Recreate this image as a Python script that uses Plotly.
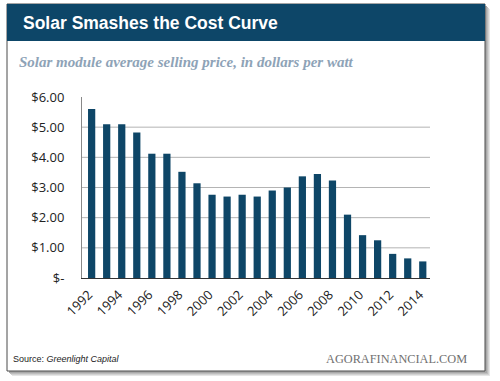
import plotly.graph_objects as go

years = [str(y) for y in range(1992, 2015)]
prices = [5.6, 5.1, 5.1, 4.82, 4.12, 4.12, 3.52, 3.14, 2.76, 2.7, 2.76, 2.7,
          2.9, 3.0, 3.37, 3.45, 3.23, 2.1, 1.42, 1.25, 0.8, 0.65, 0.55]
y_ticks = [0, 1, 2, 3, 4, 5, 6]
y_tick_labels = ["$-", "$1.00", "$2.00", "$3.00", "$4.00", "$5.00", "$6.00"]
x_tick_labels = years[::2]

W, H = 500, 381
PL, PR, PT, PB = 82, 430, 97, 278  # plot area in pixels


def px(x):
    return (x - PL) / (PR - PL)


def py(y):
    return (PB - y) / (PB - PT)


BAR = "#0e4667"

fig = go.Figure()
fig.add_trace(go.Bar(x=years, y=prices, marker=dict(color=BAR, line=dict(width=0)),
                     width=0.48))

shapes = []
# card shadow
for off, col in [(5, "#e6e6e6"), (4, "#d2d2d2"), (3, "#bdbdbd"), (2, "#a8a8a8")]:
    shapes.append(dict(type="rect", xref="paper", yref="paper", layer="below",
                       x0=px(7 + off), x1=px(485 + off), y0=py(4 + off), y1=py(371 + off),
                       fillcolor=col, line=dict(width=0)))
# card
shapes.append(dict(type="rect", xref="paper", yref="paper", layer="below",
                   x0=px(7), x1=px(485), y0=py(4), y1=py(371),
                   fillcolor="white", line=dict(color="#4a4a4a", width=1)))
# header band
shapes.append(dict(type="rect", xref="paper", yref="paper", layer="below",
                   x0=px(7), x1=px(485), y0=py(4), y1=py(41),
                   fillcolor="#0d4668", line=dict(width=0)))
# gridlines
for v in y_ticks[1:-1]:
    shapes.append(dict(type="line", xref="paper", yref="y", layer="below",
                       x0=0, x1=1, y0=v, y1=v, line=dict(color="#b4b4b4", width=1)))
fig.update_layout(shapes=shapes)

annotations = [
    dict(text="<b>Solar Smashes the Cost Curve</b>", xref="paper", yref="paper",
         x=px(21), y=py(23), xanchor="left", yanchor="middle", showarrow=False,
         font=dict(family="Liberation Sans, Arial", size=17.5, color="white")),
    dict(text="<b><i>Solar module average selling price, in dollars per watt</i></b>",
         xref="paper", yref="paper", x=px(17), y=py(62), xanchor="left", yanchor="middle",
         showarrow=False,
         font=dict(family="Liberation Serif, serif", size=15, color="#8ea3b7")),
    dict(text="Source: <i>Greenlight Capital</i>", xref="paper", yref="paper",
         x=px(11), y=py(359), xanchor="left", yanchor="middle", showarrow=False,
         font=dict(family="Liberation Sans, Arial", size=9, color="#222")),
    dict(text="AGORAFINANCIAL.COM", xref="paper", yref="paper",
         x=px(469), y=py(359), xanchor="right", yanchor="middle", showarrow=False,
         font=dict(family="Liberation Serif, serif", size=12.3, color="#707070")),
]
fig.update_layout(annotations=annotations)

fig.update_layout(
    width=W, height=H,
    margin=dict(l=PL, r=W - PR, t=PT, b=H - PB, pad=0),
    paper_bgcolor="white", plot_bgcolor="rgba(0,0,0,0)",
    showlegend=False,
    bargap=0.52,
    xaxis=dict(type="category", range=[-0.64, 22.48], tickmode="array",
               tickvals=x_tick_labels, ticktext=x_tick_labels, tickangle=-45,
               showgrid=False, showline=True, linecolor="#333", linewidth=1,
               ticks="", zeroline=False, ticklabelshift=-3, ticklabelstandoff=3,
               tickfont=dict(family="Open Sans, Liberation Sans", size=13, color="#222")),
    yaxis=dict(range=[0, 6], tickmode="array", tickvals=y_ticks, ticktext=y_tick_labels,
               showgrid=False, showline=True, linecolor="#888", linewidth=1,
               zeroline=False, ticks="", ticklabelstandoff=14,
               tickfont=dict(family="Open Sans, Liberation Sans", size=13, color="#222")),
)

fig.write_html("out.html", config={"displayModeBar": False},
               post_script="document.body.style.margin='0';document.body.style.padding='0';")
